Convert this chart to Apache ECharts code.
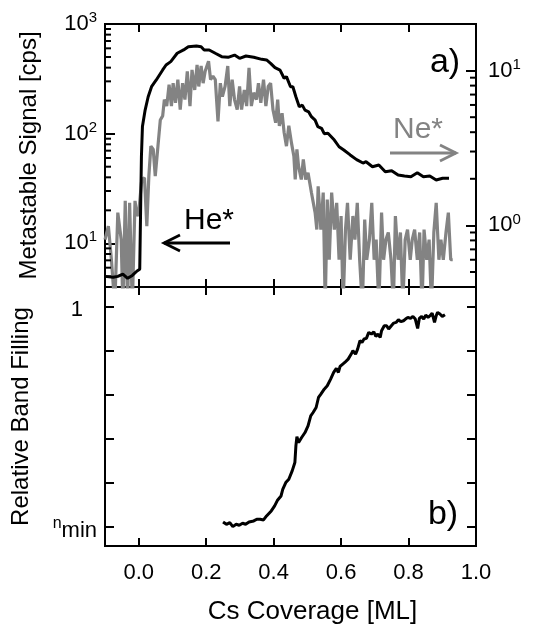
<!DOCTYPE html>
<html><head><meta charset="utf-8">
<script src="https://cdn.jsdelivr.net/npm/echarts@6/dist/echarts.min.js"></script>
<style>html,body{margin:0;padding:0;background:#fff}#c{width:543px;height:626px}</style>
</head><body><div id="c"></div>
<script>
// ---- data ----
const xMin = -0.1, xMax = 1.0;

// He* metastable signal (left log axis, cps)
const heCoverage = [-0.1,-0.076,-0.062,-0.047,-0.033,-0.019,-0.005,0.003,0.006,0.008,0.011,0.019,0.028,0.038,0.052,0.071,0.081,0.095,0.114,0.133,0.147,0.171,0.185,0.194,0.209,0.227,0.246,0.265,0.284,0.299,0.318,0.341,0.365,0.379,0.391,0.404,0.419,0.431,0.438,0.45,0.457,0.466,0.476,0.485,0.493,0.504,0.512,0.523,0.531,0.542,0.55,0.561,0.58,0.594,0.608,0.627,0.646,0.665,0.674,0.693,0.712,0.731,0.75,0.769,0.788,0.807,0.826,0.844,0.863,0.882,0.901,0.92];
const heSignal   = [5.0,4.9,5.0,5.25,4.8,5.1,5.6,5.8,24.8,62,116,164,217,268,309,381,423,454,541,580,621,630,621,580,580,541,504,497,521,486,511,497,476,470,438,400,380,320,331,268,268,217,176,182,164,158,143,133,116,112,100,101,87.5,76,71,64,58,54,55.5,50,51.8,45,46,42,41.1,40.5,44,40.5,41.1,37.8,39.2,39.2];

// Ne* metastable signal (right log axis)
const neCoverage = [-0.1,-0.09,-0.081,-0.071,-0.062,-0.052,-0.047,-0.04,-0.033,-0.027,-0.019,-0.011,-0.005,0.0,0.009,0.017,0.024,0.03,0.036,0.043,0.049,0.057,0.064,0.071,0.076,0.083,0.09,0.097,0.102,0.109,0.116,0.123,0.13,0.137,0.144,0.152,0.158,0.166,0.173,0.178,0.185,0.191,0.197,0.207,0.213,0.22,0.227,0.235,0.242,0.248,0.256,0.264,0.27,0.277,0.284,0.292,0.299,0.305,0.313,0.32,0.327,0.334,0.341,0.349,0.355,0.362,0.37,0.377,0.384,0.391,0.398,0.406,0.412,0.417,0.425,0.431,0.438,0.445,0.453,0.46,0.464,0.469,0.474,0.482,0.488,0.495,0.502,0.512,0.523,0.528,0.532,0.54,0.547,0.553,0.559,0.565,0.572,0.58,0.587,0.594,0.6,0.606,0.613,0.619,0.627,0.635,0.641,0.648,0.655,0.663,0.67,0.676,0.684,0.691,0.698,0.704,0.712,0.72,0.726,0.733,0.74,0.748,0.755,0.761,0.769,0.776,0.783,0.79,0.797,0.805,0.811,0.818,0.826,0.833,0.84,0.846,0.854,0.861,0.868,0.875,0.882,0.89,0.896,0.903,0.911,0.918,0.925,0.931];
const neSignal   = [0.81,0.99,0.6,0.3,1.21,0.81,0.3,1.44,0.3,1.4,0.3,1.44,1.15,1.21,1.98,2.03,0.99,2.08,3.25,3.1,2.08,3.25,4.8,5.1,6.5,5.9,8.1,5.9,8.3,6.2,8.75,5.6,8.3,6.5,9.9,5.9,10.1,7.5,10.9,7.9,10.7,8.3,9.9,11.5,8.75,9.2,8.75,4.7,8.3,6.8,7.9,10.7,5.9,8.75,6.5,5.6,7.9,5.6,7.5,5.9,10.4,5.9,7.2,6.5,8.3,6.2,8.75,5.9,7.9,8.3,5.6,4.6,6.5,4.4,5.3,4.0,3.25,4.4,3.4,2.8,1.98,3.1,2.4,1.98,2.67,1.98,2.19,1.63,1.21,0.94,1.79,0.94,1.63,0.3,1.47,0.6,1.63,0.94,1.4,0.6,1.15,0.3,0.94,1.4,0.6,1.15,0.81,1.4,0.6,0.3,1.09,0.6,0.81,1.4,0.6,0.81,0.3,1.21,0.6,0.81,0.9,0.6,0.3,1.15,0.6,0.9,0.3,0.81,0.94,0.6,0.81,0.94,0.6,0.9,0.3,0.94,0.6,0.81,0.3,0.9,1.4,0.6,0.81,0.6,0.9,1.21,0.6,0.6];

// Relative band filling (0 = n_min, 5 = 1)
const bandCoverage = [0.25,0.26,0.27,0.279,0.289,0.298,0.308,0.317,0.327,0.341,0.35,0.36,0.37,0.379,0.393,0.403,0.412,0.422,0.427,0.436,0.445,0.455,0.463,0.466,0.469,0.474,0.483,0.493,0.502,0.51,0.517,0.526,0.533,0.54,0.55,0.559,0.569,0.578,0.586,0.592,0.597,0.605,0.611,0.621,0.63,0.635,0.643,0.649,0.656,0.662,0.668,0.675,0.682,0.69,0.697,0.703,0.709,0.716,0.72,0.728,0.735,0.741,0.749,0.756,0.763,0.77,0.777,0.785,0.791,0.798,0.806,0.813,0.82,0.827,0.832,0.839,0.845,0.851,0.858,0.864,0.87,0.877,0.882,0.886,0.893,0.9,0.908];
const bandFilling  = [0.106,0.053,0.091,0.0,0.053,0.03,0.076,0.053,0.106,0.129,0.167,0.167,0.152,0.242,0.356,0.47,0.606,0.697,0.848,1.0,1.076,1.265,1.455,1.833,2.045,1.909,2.023,2.136,2.288,2.515,2.591,2.705,2.932,3.008,3.121,3.197,3.348,3.5,3.591,3.5,3.636,3.689,3.727,3.803,3.917,3.992,3.917,4.03,4.22,4.182,4.258,4.273,4.409,4.371,4.424,4.318,4.371,4.295,4.447,4.561,4.561,4.485,4.561,4.621,4.636,4.697,4.652,4.674,4.712,4.75,4.727,4.773,4.712,4.5,4.727,4.773,4.712,4.803,4.75,4.788,4.848,4.636,4.788,4.864,4.826,4.773,4.811];

// axis tick values
const leftMinorTicks  = [5,6,7,8,9,20,30,40,50,60,70,80,90,200,300,400,500,600,700,800,900];
const rightMinorTicks = [0.5,0.6,0.7,0.8,0.9,2,3,4,5,6,7,8,9];
const bandTickLabels  = {0: '{s|n}{m|min}', 5: '{one|1}'};

// ---- chart ----
const FONT = 'Liberation Sans, Arial, sans-serif';
const zip = (a, b) => a.map((v, i) => [v, b[i]]);

function powLabel(v) {
  const l = Math.log10(v), e = Math.round(l);
  if (Math.abs(l - e) > 1e-6) return '';
  return '{b|10}{s|' + e + '}';
}
const powRich = { b: {fontSize: 22, fontFamily: FONT, color: '#000'}, s: {fontSize: 15, fontFamily: FONT, color: '#000', padding: [0,0,12,0]} };

function tickRenderer(dir, len) {
  return function (params, api) {
    const p = api.coord([api.value(0), api.value(1)]);
    return { type: 'line', shape: {x1: p[0], y1: p[1], x2: p[0] + dir * len, y2: p[1]}, style: {stroke: '#000', lineWidth: 2} };
  };
}

const tickStyle = (len) => ({ show: true, inside: true, length: len, lineStyle: {color: '#000', width: 2} });
const noLine = {show: false, onZero: false};
const xBase = (grid, pos) => ({
  type: 'value', gridIndex: grid, position: pos, min: xMin, max: xMax, splitNumber: 5, minInterval: 0.2, maxInterval: 0.2,
  axisLine: noLine, splitLine: {show: false}, axisTick: tickStyle(8), axisLabel: {show: false}
});

const chart = echarts.init(document.getElementById('c'), null, {renderer: 'canvas'});
chart.setOption({
  animation: false,
  backgroundColor: '#fff',
  textStyle: {fontFamily: FONT, color: '#000'},
  grid: [
    {left: 105, top: 24, width: 371, height: 263, show: true, borderColor: '#000', borderWidth: 2, backgroundColor: 'transparent'},
    {left: 105, top: 287, width: 371, height: 260, show: true, borderColor: '#000', borderWidth: 2, backgroundColor: 'transparent'}
  ],
  xAxis: [
    xBase(0, 'bottom'),
    xBase(0, 'top'),
    Object.assign(xBase(1, 'bottom'), {
      axisLabel: {show: true, fontSize: 22, fontFamily: FONT, color: '#000', margin: 16,
        formatter: v => Math.abs(v * 5 - Math.round(v * 5)) < 1e-6 ? v.toFixed(1) : ''},
      name: 'Cs Coverage [ML]', nameLocation: 'middle', nameGap: 53,
      nameTextStyle: {fontSize: 26, fontFamily: FONT, color: '#000', padding: [0, 0, 0, 44]}
    }),
    xBase(1, 'top')
  ],
  yAxis: [
    {type: 'log', logBase: 10, gridIndex: 0, position: 'left', min: 4, max: 1000,
      axisLine: noLine, splitLine: {show: false}, axisTick: tickStyle(10),
      axisLabel: {formatter: powLabel, rich: powRich, margin: 8},
      name: 'Metastable Signal [cps]', nameLocation: 'middle', nameGap: 64,
      nameTextStyle: {fontSize: 24, fontFamily: FONT, color: '#000'}},
    {type: 'log', logBase: 10, gridIndex: 0, position: 'right', min: 0.4, max: 20,
      axisLine: noLine, splitLine: {show: false}, axisTick: tickStyle(10),
      axisLabel: {formatter: powLabel, rich: powRich, margin: 12}},
    {type: 'value', gridIndex: 1, position: 'left', min: -0.44, max: 5.44, minInterval: 1, maxInterval: 1,
      axisLine: noLine, splitLine: {show: false}, axisTick: tickStyle(9),
      axisLabel: {margin: 8, formatter: v => bandTickLabels[Math.round(v * 1000) / 1000] || '',
        rich: {s: {fontSize: 16, fontFamily: FONT, color: '#000', padding: [0,0,6,0]},
               m: {fontSize: 22, fontFamily: FONT, color: '#000', padding: [8,0,0,0]},
               one: {fontSize: 22, fontFamily: FONT, color: '#000', padding: [8,14,0,0]}}},
      name: 'Relative Band Filling', nameLocation: 'middle', nameGap: 72,
      nameTextStyle: {fontSize: 24, fontFamily: FONT, color: '#000'}},
    {type: 'value', gridIndex: 1, position: 'right', min: -0.44, max: 5.44, minInterval: 1, maxInterval: 1,
      axisLine: noLine, splitLine: {show: false}, axisTick: tickStyle(9), axisLabel: {show: false}}
  ],
  series: [
    {name: 'Ne*', type: 'line', xAxisIndex: 0, yAxisIndex: 1, data: zip(neCoverage, neSignal),
      showSymbol: false, lineStyle: {color: '#838383', width: 3.2}, itemStyle: {color: '#838383'}, z: 2},
    {name: 'He*', type: 'line', xAxisIndex: 0, yAxisIndex: 0, data: zip(heCoverage, heSignal),
      showSymbol: false, lineStyle: {color: '#000', width: 3}, itemStyle: {color: '#000'}, z: 3},
    {name: 'Band', type: 'line', xAxisIndex: 2, yAxisIndex: 2, data: zip(bandCoverage, bandFilling),
      showSymbol: false, lineStyle: {color: '#000', width: 3}, itemStyle: {color: '#000'}, z: 3},
    {type: 'custom', xAxisIndex: 0, yAxisIndex: 0, clip: false, silent: true, encode: {x: 0, y: 1},
      data: leftMinorTicks.map(v => [xMin, v]), renderItem: tickRenderer(1, 6), z: 4},
    {type: 'custom', xAxisIndex: 0, yAxisIndex: 1, clip: false, silent: true, encode: {x: 0, y: 1},
      data: rightMinorTicks.map(v => [xMax, v]), renderItem: tickRenderer(-1, 6), z: 4}
  ],
  graphic: [
    {type: 'text', style: {x: 445, y: 63, text: 'a)', fontSize: 34, fontFamily: FONT, fill: '#000', align: 'center', verticalAlign: 'middle'}},
    {type: 'text', style: {x: 443, y: 515, text: 'b)', fontSize: 34, fontFamily: FONT, fill: '#000', align: 'center', verticalAlign: 'middle'}},
    {type: 'text', style: {x: 209, y: 221, text: 'He*', fontSize: 30, fontFamily: FONT, fill: '#000', align: 'center', verticalAlign: 'middle'}},
    {type: 'text', style: {x: 418, y: 130, text: 'Ne*', fontSize: 30, fontFamily: FONT, fill: '#838383', align: 'center', verticalAlign: 'middle'}},
    {type: 'polyline', shape: {points: [[230, 243], [164, 243]]}, style: {stroke: '#000', lineWidth: 2.8, fill: null}},
    {type: 'polyline', shape: {points: [[180, 235], [164, 243], [180, 251]]}, style: {stroke: '#000', lineWidth: 2.8, fill: null}},
    {type: 'polyline', shape: {points: [[390, 153], [456, 153]]}, style: {stroke: '#838383', lineWidth: 2.8, fill: null}},
    {type: 'polyline', shape: {points: [[440, 145], [456, 153], [440, 161]]}, style: {stroke: '#838383', lineWidth: 2.8, fill: null}}
  ]
});
</script>
</body></html>
